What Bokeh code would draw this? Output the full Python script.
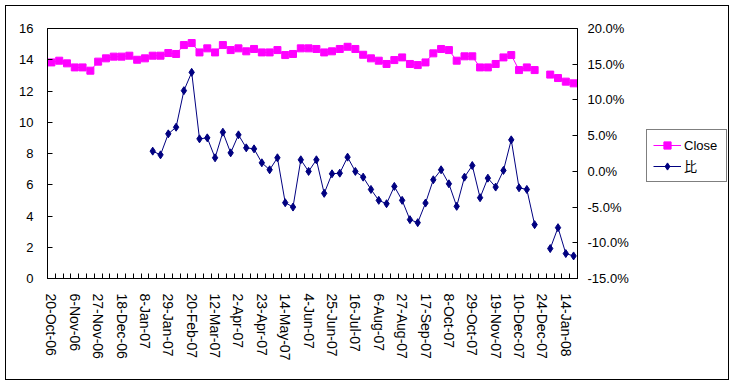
import math
from bokeh.plotting import figure
from bokeh.layouts import row
from bokeh.models import (Range1d, LinearAxis, FixedTicker, PrintfTickFormatter,
                          Legend, LegendItem)
from bokeh.embed import file_html
from bokeh.resources import INLINE

NAN = float("nan")

# Close price (left axis), one value per category (68 weekly categories)
CLOSE = [13.83, 13.94, 13.77, 13.51, 13.51, 13.30, 13.88, 14.09, 14.20, 14.20,
         14.26, 14.00, 14.09, 14.26, 14.26, 14.43, 14.37, 14.94, 15.07, 14.47,
         14.73, 14.47, 14.94, 14.62, 14.73, 14.54, 14.69, 14.47, 14.47, 14.62,
         14.30, 14.37, 14.73, 14.73, 14.69, 14.47, 14.54, 14.69, 14.83, 14.69,
         14.32, 14.09, 13.94, 13.73, 13.98, 14.15, 13.73, 13.66, 13.83, 14.41,
         14.69, 14.62, 13.94, 14.22, 14.22, 13.51, 13.51, 13.73, 14.15, 14.30,
         13.34, 13.51, 13.34, NAN, 13.05, 12.83, 12.60, 12.49]

# 比 (right axis, percent)
RATIO = [NAN, NAN, NAN, NAN, NAN, NAN, NAN, NAN, NAN, NAN,
         NAN, NAN, NAN, 2.83, 2.31, 5.25, 6.18, 11.30, 13.86, 4.55,
         4.69, 1.90, 5.48, 2.59, 5.11, 3.29, 3.15, 1.20, 0.22, 1.90,
         -4.39, -5.00, 1.62, -0.01, 1.62, -3.08, -0.34, -0.25, 1.99, -0.01,
         -0.81, -2.53, -4.06, -4.53, -2.11, -4.06, -6.76, -7.18, -4.44, -1.18,
         0.22, -1.74, -4.90, -0.81, 0.82, -3.69, -0.95, -2.20, 0.13, 4.41,
         -2.30, -2.53, -7.46, NAN, -10.81, -7.88, -11.51, -11.84]

# category labels shown on every third category
TICK_LABELS = ["20-Oct-06", "6-Nov-06", "27-Nov-06", "18-Dec-06", "8-Jan-07",
               "29-Jan-07", "20-Feb-07", "12-Mar-07", "2-Apr-07", "23-Apr-07",
               "14-May-07", "4-Jun-07", "25-Jun-07", "16-Jul-07", "6-Aug-07",
               "27-Aug-07", "17-Sep-07", "8-Oct-07", "29-Oct-07", "19-Nov-07",
               "10-Dec-07", "24-Dec-07", "14-Jan-08"]
TICK_STEP = 3

LEFT_TICKS = [0, 2, 4, 6, 8, 10, 12, 14, 16]
RIGHT_TICKS = [-15, -10, -5, 0, 5, 10, 15, 20]
SERIES = ["Close", "比"]

N = len(CLOSE)
X = list(range(N))

FONT = "'Liberation Sans', 'Noto Sans CJK JP', sans-serif"
PINK = "#FF00FF"
NAVY = "#000080"

p = figure(width=634, height=373, output_backend="svg", toolbar_location=None,
           x_range=Range1d(-0.5, N - 0.5), y_range=Range1d(LEFT_TICKS[0], LEFT_TICKS[-1]),
           min_border_left=41, min_border_right=63, min_border_top=22, min_border_bottom=101,
           background_fill_color="white", border_fill_color="white",
           outline_line_color="black", outline_line_width=1)
p.grid.visible = False
p.extra_y_ranges = {"ratio": Range1d(RIGHT_TICKS[0], RIGHT_TICKS[-1])}

# x axis
xa = p.xaxis[0]
xa.ticker = FixedTicker(ticks=[i * TICK_STEP for i in range(len(TICK_LABELS))],
                        minor_ticks=[k - 0.5 for k in range(N + 1)])
xa.major_label_overrides = {i * TICK_STEP: lab for i, lab in enumerate(TICK_LABELS)}
xa.major_label_orientation = "vertical"
xa.major_tick_in = 0
xa.major_tick_out = 0
xa.minor_tick_in = 5
xa.minor_tick_out = 0
xa.minor_tick_line_color = "black"
xa.axis_line_color = "black"
xa.major_label_text_font = FONT
xa.major_label_text_font_size = "14px"
xa.major_label_text_color = "black"
xa.major_label_standoff = 15

# left axis
ya = p.yaxis[0]
ya.ticker = FixedTicker(ticks=LEFT_TICKS)
ya.major_tick_in = 5
ya.major_tick_out = 0
ya.major_tick_line_color = "black"
ya.minor_tick_line_color = None
ya.axis_line_color = "black"
ya.major_label_text_font = FONT
ya.major_label_text_font_size = "13px"
ya.major_label_text_color = "black"
ya.major_label_standoff = 14

# right axis
ra = LinearAxis(y_range_name="ratio", ticker=FixedTicker(ticks=RIGHT_TICKS),
                formatter=PrintfTickFormatter(format="%.1f%%"))
ra.major_tick_in = 5
ra.major_tick_out = 0
ra.major_tick_line_color = "black"
ra.minor_tick_line_color = None
ra.axis_line_color = "black"
ra.major_label_text_font = FONT
ra.major_label_text_font_size = "13px"
ra.major_label_text_color = "black"
ra.major_label_standoff = 10
p.add_layout(ra, "right")

p.line(X, CLOSE, line_color=PINK, line_width=1)
p.scatter(X, CLOSE, marker="square", size=7, fill_color=PINK, line_color=PINK)
p.line(X, RATIO, line_color=NAVY, line_width=1, y_range_name="ratio")
p.scatter(X, RATIO, marker="diamond", size=8, fill_color=NAVY, line_color=NAVY,
          y_range_name="ratio")

# legend panel: a companion plot whose (out-of-view) series only feed the legend swatches
q = figure(width=88, height=373, output_backend="svg", toolbar_location=None,
           x_axis_type=None, y_axis_type=None,
           x_range=Range1d(-0.5, N - 0.5), y_range=Range1d(100, 101),
           min_border=0, outline_line_color=None,
           background_fill_color="white", border_fill_color="white")
q.grid.visible = False
l1 = q.line(X, CLOSE, line_color=PINK, line_width=1)
m1 = q.scatter(X, CLOSE, marker="square", size=7, fill_color=PINK, line_color=PINK)
l2 = q.line(X, RATIO, line_color=NAVY, line_width=1)
m2 = q.scatter(X, RATIO, marker="diamond", size=8, fill_color=NAVY, line_color=NAVY)

legend = Legend(items=[LegendItem(label=SERIES[0], renderers=[l1, m1]),
                       LegendItem(label=SERIES[1], renderers=[l2, m2])],
                location=(6, 96), orientation="vertical",
                border_line_color="black", border_line_width=1,
                background_fill_color="white", background_fill_alpha=1,
                glyph_width=28, glyph_height=18, label_height=18, label_width=36,
                label_standoff=3, spacing=2, padding=6, margin=0,
                label_text_font=FONT, label_text_font_size="13px",
                label_text_color="black")
q.add_layout(legend)

layout = row(p, q, spacing=0)
layout.styles = {"margin-left": "5px", "margin-top": "5px",
                 "border": "1px solid black"}

open("out.html", "w").write(file_html(layout, INLINE))
